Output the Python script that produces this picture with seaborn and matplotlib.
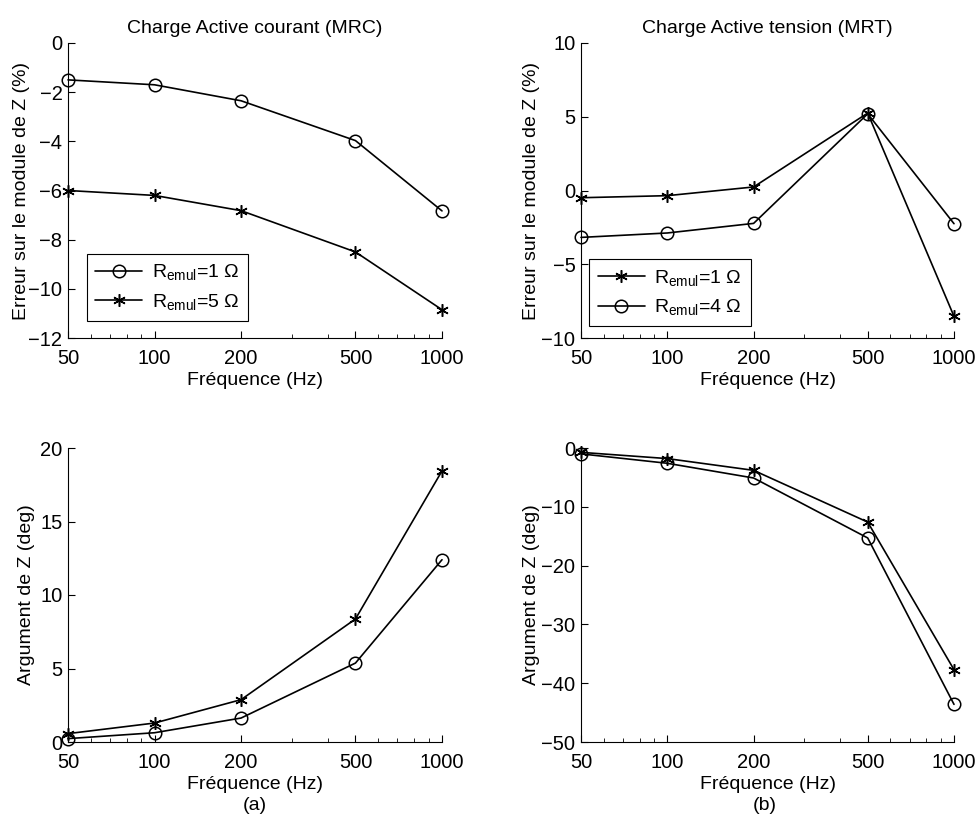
import numpy as np
import pandas as pd
import seaborn as sns
import matplotlib.pyplot as plt
import matplotlib.ticker as ticker

# données
freq = [50, 100, 200, 500, 1000]

# (a) charge active courant (MRC)
mod_mrc_r1 = [-1.5, -1.7, -2.35, -3.97, -6.83]
mod_mrc_r5 = [-6.0, -6.2, -6.82, -8.5, -10.85]
arg_mrc_r1 = [0.23, 0.63, 1.63, 5.37, 12.4]
arg_mrc_r5 = [0.57, 1.29, 2.88, 8.37, 18.44]

# (b) charge active tension (MRT)
mod_mrt_r1 = [-0.49, -0.35, 0.24, 5.25, -8.53]
mod_mrt_r4 = [-3.18, -2.88, -2.23, 5.2, -2.25]
arg_mrt_r1 = [-0.74, -1.8, -3.8, -12.6, -37.7]
arg_mrt_r4 = [-1.0, -2.6, -5.1, -15.3, -43.6]

sns.set_style("ticks")
plt.rcParams['font.family'] = ['Liberation Sans', 'DejaVu Sans']
plt.rcParams['mathtext.fontset'] = 'custom'
plt.rcParams['mathtext.rm'] = 'Liberation Sans'
plt.rcParams['mathtext.it'] = 'Liberation Sans:italic'
plt.rcParams['text.color'] = 'k'
plt.rcParams['axes.labelcolor'] = 'k'
plt.rcParams['xtick.color'] = 'k'
plt.rcParams['ytick.color'] = 'k'
fs = 14
fs_tick = 14.5

fig, axes = plt.subplots(2, 2, figsize=(9.76, 8.16), dpi=100)

circ = dict(marker='o', markersize=9, markerfacecolor='none', markeredgecolor='k', markeredgewidth=1.1)
star = dict(marker=(6, 2, 0), markersize=9, markeredgecolor='k', markeredgewidth=1.1)


def courbe(ax, y, style, label=None):
    sns.lineplot(x=freq, y=y, ax=ax, color='k', linewidth=1.2, label=label, **style)


courbe(axes[0, 0], mod_mrc_r1, circ, r'R$_{\rm emul}$=1 Ω')
courbe(axes[0, 0], mod_mrc_r5, star, r'R$_{\rm emul}$=5 Ω')
courbe(axes[0, 1], mod_mrt_r1, star, r'R$_{\rm emul}$=1 Ω')
courbe(axes[0, 1], mod_mrt_r4, circ, r'R$_{\rm emul}$=4 Ω')
courbe(axes[1, 0], arg_mrc_r1, circ)
courbe(axes[1, 0], arg_mrc_r5, star)
courbe(axes[1, 1], arg_mrt_r1, star)
courbe(axes[1, 1], arg_mrt_r4, circ)

# positions des axes (style matlab)
pos = {(0, 0): [68, 43, 442, 338], (0, 1): [581, 43, 954, 338],
       (1, 0): [68, 448, 442, 742], (1, 1): [581, 448, 954, 742]}
for (i, j), (x0, y0, x1, y1) in pos.items():
    ax = axes[i, j]
    ax.set_position([x0 / 976, 1 - y1 / 816, (x1 - x0) / 976, (y1 - y0) / 816])
    ax.set_xscale('log')
    ax.set_xlim(50, 1000)
    ax.set_xticks(freq)
    ax.xaxis.set_major_formatter(ticker.FixedFormatter([str(f) for f in freq]))
    ax.xaxis.set_minor_formatter(ticker.NullFormatter())
    ax.tick_params(which='both', direction='in', colors='k', labelsize=fs_tick)
    ax.tick_params(which='major', length=5, width=0.8)
    ax.tick_params(which='minor', length=3, width=0.6)
    ax.tick_params(axis='x', which='major', pad=8)
    ax.tick_params(axis='y', which='major', pad=4)
    for s in ['left', 'bottom']:
        ax.spines[s].set_color('k')
        ax.spines[s].set_linewidth(0.8)
    sns.despine(ax=ax)
    ax.set_xlabel('Fréquence (Hz)', fontsize=fs, labelpad=3)
    for ln in ax.get_lines():
        ln.set_clip_on(False)

axes[0, 0].set_ylim(-12, 0)
axes[0, 0].set_yticks([-12, -10, -8, -6, -4, -2, 0])
axes[0, 1].set_ylim(-10, 10)
axes[0, 1].set_yticks([-10, -5, 0, 5, 10])
axes[1, 0].set_ylim(0, 20)
axes[1, 0].set_yticks([0, 5, 10, 15, 20])
axes[1, 1].set_ylim(-50, 0)
axes[1, 1].set_yticks([-50, -40, -30, -20, -10, 0])

axes[0, 0].set_ylabel('Erreur sur le module de Z (%)', fontsize=fs, labelpad=-1)
axes[0, 1].set_ylabel('Erreur sur le module de Z (%)', fontsize=fs, labelpad=1)
axes[1, 0].set_ylabel('Argument de Z (deg)', fontsize=fs, labelpad=4)
axes[1, 1].set_ylabel('Argument de Z (deg)', fontsize=fs, labelpad=1)

axes[0, 0].set_title('Charge Active courant (MRC)', fontsize=fs, pad=7)
axes[0, 1].set_title('Charge Active tension (MRT)', fontsize=fs, pad=7)

leg_pos = {(0, 0): (0.05, 0.058), (0, 1): (0.022, 0.04)}
for (i, j), anchor in leg_pos.items():
    leg = axes[i, j].legend(loc='lower left', bbox_to_anchor=anchor, frameon=True,
                            fancybox=False, edgecolor='k', framealpha=1,
                            handlelength=2.4, fontsize=fs, borderpad=0.45,
                            labelspacing=0.5, handletextpad=0.5, borderaxespad=0)
    leg.get_frame().set_linewidth(0.8)

fig.text(255 / 976, 1 - 806 / 816, '(a)', ha='center', va='center', fontsize=fs)
fig.text(765 / 976, 1 - 806 / 816, '(b)', ha='center', va='center', fontsize=fs)

plt.savefig('out.png', dpi=100)
plt.close()
